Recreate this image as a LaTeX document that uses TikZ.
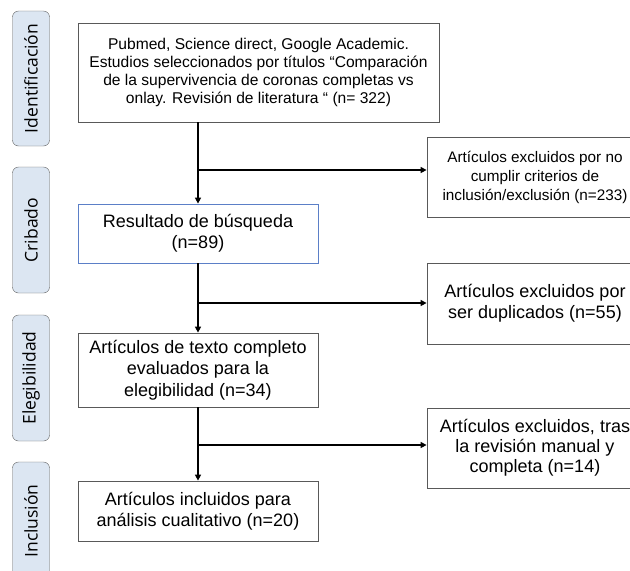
\documentclass[tikz,border=0pt]{standalone}
\usepackage{fontspec}
\setmainfont{Liberation Sans}
\newfontfamily\labelfont{Open Sans}
\usetikzlibrary{arrows.meta}
\definecolor{fasefill}{HTML}{DCE6F2}
\definecolor{fasedraw}{HTML}{5F5F5F}
\definecolor{cajadraw}{HTML}{595959}
\definecolor{cajaazul}{HTML}{5B7FC7}

\begin{document}
\begin{tikzpicture}[x=1pt,y=-1pt,
	fase/.style={draw=fasedraw,fill=fasefill,rounded corners=6pt,rotate=90,minimum height=37pt,inner sep=0pt,font=\labelfont\fontsize{17.5}{20}\selectfont},
	caja/.style={draw=cajadraw,line width=0.8pt,align=center,inner sep=0pt,font=\fontsize{18}{21}\selectfont},
	flecha/.style={line width=1.6pt,-{Triangle[length=6pt,width=6pt]}}]
	\useasboundingbox (0,0) rectangle (630,571);
	\clip (0,0) rectangle (630,571);
	\node[fase,minimum width=135pt] (fIdent) at (31,78.5) {Identificación};
	\node[fase,minimum width=126pt] (fCrib) at (31,230) {Cribado};
	\node[fase,minimum width=126pt] (fEleg) at (31,378) {Elegibilidad};
	\node[fase,minimum width=118pt] (fIncl) at (31,521) {Inclusión};
	\node[caja,minimum width=361pt,minimum height=99pt,font=\fontsize{15.6}{18.3}\selectfont] (busq) at (258.5,72.5) {Pubmed, Science direct, Google Academic.\\Estudios seleccionados por títulos “Comparación\\de la supervivencia de coronas completas vs\\onlay. Revisión de literatura “ (n= 322)};
	\node[caja,draw=cajaazul,minimum width=240pt,minimum height=59pt] (result) at (198,233.5) {Resultado de búsqueda\\(n=89)};
	\node[caja,minimum width=240pt,minimum height=74pt,font=\fontsize{18}{21.5}\selectfont] (eleg) at (198,370) {Artículos de texto completo\\evaluados para la\\elegibilidad (n=34)};
	\node[caja,minimum width=240pt,minimum height=60pt] (incl) at (198,511) {Artículos incluidos para\\análisis cualitativo (n=20)};
	\node[caja,minimum width=216pt,minimum height=80pt,font=\fontsize{15.3}{19}\selectfont] (excl1) at (535,177) {Artículos excluidos por no\\cumplir criterios de\\inclusión/exclusión (n=233)};
	\node[caja,minimum width=216pt,minimum height=81pt] (excl2) at (535,303.5) {Artículos excluidos por\\ser duplicados (n=55)};
	\node[caja,minimum width=216pt,minimum height=80pt,font=\fontsize{18}{20}\selectfont] (excl3) at (535,448) {Artículos excluidos, tras\\la revisión manual y\\completa (n=14)};
	\coordinate (r1) at (198,170);
	\coordinate (r2) at (198,303);
	\coordinate (r3) at (198,445);
	\draw[flecha] (busq.south -| result.north) -- (result.north);
	\draw[flecha] (result.south) -- (eleg.north);
	\draw[flecha] (eleg.south) -- (incl.north);
	\draw[flecha] (r1) -- (r1 -| excl1.west);
	\draw[flecha] (r2) -- (r2 -| excl2.west);
	\draw[flecha] (r3) -- (r3 -| excl3.west);
\end{tikzpicture}
\end{document}
